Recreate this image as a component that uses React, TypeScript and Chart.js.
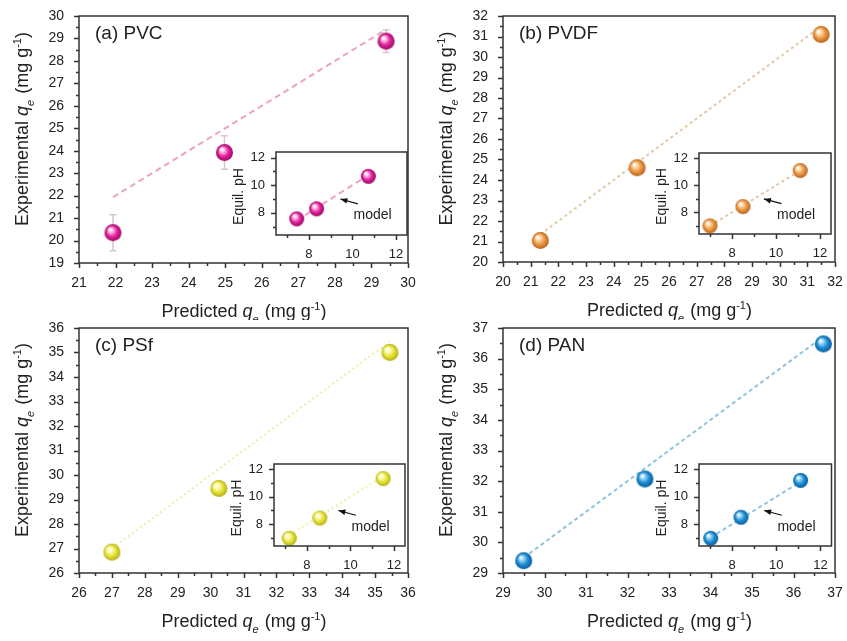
import React, { useEffect, useRef } from 'react';
import { Chart, registerables } from 'chart.js';

Chart.register(...registerables);

const FONT = "'Liberation Sans', Arial, Helvetica, sans-serif";
const TEXT = '#222222';
const AXIS = '#333333';

// ---------------- data ----------------
const PANEL_LABELS = ['(a) PVC', '(b) PVDF', '(c) PSf', '(d) PAN'];

const PVC_PREDICTED = [21.93, 24.98, 29.4];
const PVC_EXPERIMENTAL = [20.35, 23.92, 28.88];
const PVC_ERROR = [0.8, 0.75, 0.5];
const PVC_PH_MODEL = [7.45, 8.36, 10.73];
const PVC_PH_EQUIL = [7.57, 8.29, 10.64];

const PVDF_PREDICTED = [21.35, 24.85, 31.5];
const PVDF_EXPERIMENTAL = [21.05, 24.6, 31.1];
const PVDF_PH_MODEL = [7.0, 8.5, 11.1];
const PVDF_PH_EQUIL = [7.0, 8.43, 11.1];

const PSF_PREDICTED = [27.0, 30.25, 35.45];
const PSF_EXPERIMENTAL = [26.85, 29.45, 35.0];
const PSF_PH_MODEL = [7.2, 8.6, 11.5];
const PSF_PH_EQUIL = [6.96, 8.44, 11.33];

const PAN_PREDICTED = [29.5, 32.42, 36.72];
const PAN_EXPERIMENTAL = [29.4, 32.07, 36.48];
const PAN_PH_MODEL = [7.03, 8.4, 11.1];
const PAN_PH_EQUIL = [6.96, 8.5, 11.2];

const MAIN_X_RANGES = [[21, 30], [20, 32], [26, 36], [29, 37]];
const MAIN_Y_RANGES = [[19, 30], [20, 32], [26, 36], [29, 37]];
const MAIN_TICK_STEP = 1;
const INSET_X_RANGE = [6.5, 12.5];
const INSET_Y_RANGE = [6.4, 12.4];
const INSET_TICK_STEP = 2;
const MODEL_ARROW_HEAD = [9.45, 9.0];
const MODEL_ARROW_TAIL = [10.25, 8.65];
const MODEL_LABEL_AT = [10.05, 7.8];

const PREDICTED = [PVC_PREDICTED, PVDF_PREDICTED, PSF_PREDICTED, PAN_PREDICTED];
const EXPERIMENTAL = [PVC_EXPERIMENTAL, PVDF_EXPERIMENTAL, PSF_EXPERIMENTAL, PAN_EXPERIMENTAL];
const ERRORS = [PVC_ERROR, null, null, null];
const PH_MODEL = [PVC_PH_MODEL, PVDF_PH_MODEL, PSF_PH_MODEL, PAN_PH_MODEL];
const PH_EQUIL = [PVC_PH_EQUIL, PVDF_PH_EQUIL, PSF_PH_EQUIL, PAN_PH_EQUIL];

// ---------------- styles / layout ----------------
const STYLES = [
  { base: '#e3239e', light: '#ffc4e8', dark: '#9a0a64', line: '#eaa3c0', dash: [6, 4] },
  { base: '#ec9a46', light: '#fde0b8', dark: '#b8631c', line: '#e4c8a8', dash: [3, 3] },
  { base: '#e6e43a', light: '#ffffc8', dark: '#b4ae14', line: '#efefa8', dash: [2, 3] },
  { base: '#1d8fd6', light: '#a8dcf8', dark: '#0a5c9a', line: '#8fc4dc', dash: [4, 3] },
];

const MAIN_LAYOUT = [
  { left: 0, top: 0, w: 423, h: 320, l: 79, r: 408, t: 16, b: 263 },
  { left: 423, top: 0, w: 424, h: 320, l: 80, r: 412, t: 16, b: 262 },
  { left: 0, top: 312, w: 423, h: 329, l: 79, r: 408, t: 16, b: 261 },
  { left: 423, top: 312, w: 424, h: 329, l: 80, r: 412, t: 16, b: 261 },
];
const INSET_LAYOUT = [
  { left: 220, top: 140, w: 200, h: 130, l: 56, r: 187, t: 12, b: 95 },
  { left: 640, top: 140, w: 200, h: 130, l: 59, r: 191, t: 13, b: 94 },
  { left: 220, top: 452, w: 200, h: 130, l: 54, r: 185, t: 12, b: 94 },
  { left: 640, top: 452, w: 200, h: 130, l: 59, r: 192, t: 12, b: 94 },
];

type Seg = { t: string; it?: boolean; sub?: boolean; sup?: boolean };
const X_TITLE: Seg[] = [{ t: 'Predicted ' }, { t: 'q', it: true }, { t: 'e', it: true, sub: true }, { t: ' (mg g' }, { t: '-1', sup: true }, { t: ')' }];
const Y_TITLE: Seg[] = [{ t: 'Experimental ' }, { t: 'q', it: true }, { t: 'e', it: true, sub: true }, { t: ' (mg g' }, { t: '-1', sup: true }, { t: ')' }];
const INSET_Y_TITLE = 'Equil. pH';
const MODEL_TEXT = 'model';

function drawRich(ctx: CanvasRenderingContext2D, segs: Seg[], cx: number, cy: number, size: number) {
  const fontFor = (s: Seg) => `${s.it ? 'italic ' : ''}${s.sub || s.sup ? Math.round(size * 0.62) : size}px ${FONT}`;
  let total = 0;
  const widths = segs.map((s) => {
    ctx.font = fontFor(s);
    const w = ctx.measureText(s.t).width;
    total += w;
    return w;
  });
  let x = cx - total / 2;
  const base = cy + size * 0.36;
  ctx.textAlign = 'left';
  ctx.textBaseline = 'alphabetic';
  segs.forEach((s, k) => {
    ctx.font = fontFor(s);
    const dy = s.sub ? size * 0.28 : s.sup ? -size * 0.42 : 0;
    ctx.fillText(s.t, x, base + dy);
    x += widths[k] + (s.sub ? 1 : 0);
  });
}

function sphere(st: any, r: number) {
  const c = document.createElement('canvas');
  const s = Math.ceil(r * 2) + 2;
  c.width = s;
  c.height = s;
  const g = c.getContext('2d')!;
  const cx = s / 2, cy = s / 2;
  const grad = g.createRadialGradient(cx - r * 0.35, cy - r * 0.4, r * 0.05, cx, cy, r);
  grad.addColorStop(0, '#ffffff');
  grad.addColorStop(0.22, st.light);
  grad.addColorStop(0.6, st.base);
  grad.addColorStop(1, st.dark);
  g.fillStyle = grad;
  g.beginPath();
  g.arc(cx, cy, r, 0, Math.PI * 2);
  g.fill();
  return c;
}

function framePlugin(major: number, minor: number, majLen: number, minLen: number, lw: number) {
  return {
    id: 'frameTicks',
    afterDatasetsDraw(chart: any) {
      const { ctx, chartArea: a, scales } = chart;
      const xs = scales.x, ys = scales.y;
      ctx.save();
      ctx.strokeStyle = AXIS;
      ctx.lineWidth = lw;
      ctx.strokeRect(a.left, a.top, a.right - a.left, a.bottom - a.top);
      ctx.beginPath();
      const n0x = Math.ceil(xs.min / minor - 1e-6), n1x = Math.floor(xs.max / minor + 1e-6);
      for (let n = n0x; n <= n1x; n++) {
        const v = n * minor;
        const isMaj = Math.abs(v / major - Math.round(v / major)) < 1e-6;
        const px = Math.round(xs.getPixelForValue(v)) + 0.5;
        ctx.moveTo(px, a.bottom);
        ctx.lineTo(px, a.bottom + (isMaj ? majLen : minLen));
      }
      const n0y = Math.ceil(ys.min / minor - 1e-6), n1y = Math.floor(ys.max / minor + 1e-6);
      for (let n = n0y; n <= n1y; n++) {
        const v = n * minor;
        const isMaj = Math.abs(v / major - Math.round(v / major)) < 1e-6;
        const py = Math.round(ys.getPixelForValue(v)) + 0.5;
        ctx.moveTo(a.left, py);
        ctx.lineTo(a.left - (isMaj ? majLen : minLen), py);
      }
      ctx.stroke();
      ctx.restore();
    },
  };
}

function tickValues(range: number[], step: number) {
  const out: { value: number }[] = [];
  const n0 = Math.ceil(range[0] / step - 1e-6), n1 = Math.floor(range[1] / step + 1e-6);
  for (let n = n0; n <= n1; n++) out.push({ value: n * step });
  return out;
}

function zeroPad(s: any) {
  s.paddingLeft = 0;
  s.paddingRight = 0;
  s.paddingTop = 0;
  s.paddingBottom = 0;
}

function axes(L: any, xr: number[], yr: number[], step: number, size: number, padX: number, padY: number) {
  const common = {
    type: 'linear',
    grid: { display: false, drawTicks: false },
    border: { display: false },
  };
  return {
    x: {
      ...common,
      min: xr[0],
      max: xr[1],
      afterBuildTicks: (s: any) => { s.ticks = tickValues(xr, step); },
      afterFit: (s: any) => { s.height = L.h - L.b; zeroPad(s); },
      ticks: { padding: padX, color: TEXT, font: { size, family: FONT }, maxRotation: 0, autoSkip: false, callback: (v: any) => String(v) },
    },
    y: {
      ...common,
      min: yr[0],
      max: yr[1],
      afterBuildTicks: (s: any) => { s.ticks = tickValues(yr, step); },
      afterFit: (s: any) => { s.width = L.l; zeroPad(s); },
      ticks: { padding: padY, color: TEXT, font: { size, family: FONT }, autoSkip: false, callback: (v: any) => String(v) },
    },
  };
}

function Panel({ i }: { i: number }) {
  const mainRef = useRef<HTMLCanvasElement>(null);
  const insetRef = useRef<HTMLCanvasElement>(null);
  const M = MAIN_LAYOUT[i];
  const I = INSET_LAYOUT[i];

  useEffect(() => {
    const st = STYLES[i];
    const pred = PREDICTED[i], exp = EXPERIMENTAL[i], err = ERRORS[i];
    const lo = Math.min(...pred), hi = Math.max(...pred);

    const errPlugin = {
      id: 'errBars',
      beforeDatasetsDraw(chart: any) {
        if (!err) return;
        const { ctx, scales } = chart;
        ctx.save();
        ctx.strokeStyle = '#d9c3cf';
        ctx.lineWidth = 1.5;
        pred.forEach((x, k) => {
          const px = scales.x.getPixelForValue(x);
          const y1 = scales.y.getPixelForValue(exp[k] - err[k]);
          const y2 = scales.y.getPixelForValue(exp[k] + err[k]);
          ctx.beginPath();
          ctx.moveTo(px, y1); ctx.lineTo(px, y2);
          ctx.moveTo(px - 3.5, y1); ctx.lineTo(px + 3.5, y1);
          ctx.moveTo(px - 3.5, y2); ctx.lineTo(px + 3.5, y2);
          ctx.stroke();
        });
        ctx.restore();
      },
    };

    const titlePlugin = {
      id: 'titles',
      afterDraw(chart: any) {
        const { ctx, chartArea: a } = chart;
        ctx.save();
        ctx.fillStyle = TEXT;
        drawRich(ctx, X_TITLE, (a.left + a.right) / 2, a.bottom + 48, 18);
        ctx.save();
        ctx.translate(a.left - 57, (a.top + a.bottom) / 2 - 10);
        ctx.rotate(-Math.PI / 2);
        drawRich(ctx, Y_TITLE, 0, 0, 18);
        ctx.restore();
        ctx.font = `19px ${FONT}`;
        ctx.textAlign = 'left';
        ctx.textBaseline = 'middle';
        ctx.fillText(PANEL_LABELS[i], a.left + 16, a.top + 18);
        ctx.restore();
      },
    };

    const main = new Chart(mainRef.current!, {
      type: 'scatter',
      data: {
        datasets: [
          {
            data: pred.map((x, k) => ({ x, y: exp[k] })),
            pointStyle: sphere(st, 8.5) as any,
            pointRadius: 8.5,
            clip: false as any,
          },
          {
            data: [{ x: lo, y: lo }, { x: hi, y: hi }],
            showLine: true,
            borderColor: st.line,
            borderDash: st.dash,
            borderWidth: 2,
            pointRadius: 0,
            clip: false as any,
          },
        ],
      },
      options: {
        responsive: false,
        animation: false,
        devicePixelRatio: 1,
        layout: { padding: { left: 0, top: M.t, right: M.w - M.r, bottom: 0 } },
        plugins: { legend: { display: false }, tooltip: { enabled: false } },
        scales: axes(M, MAIN_X_RANGES[i], MAIN_Y_RANGES[i], MAIN_TICK_STEP, 14, 12, 15) as any,
      },
      plugins: [errPlugin, framePlugin(1, 0.5, 5, 3, 1.5), titlePlugin],
    });

    const mModel = PH_MODEL[i], mEq = PH_EQUIL[i];
    const ilo = mModel[0], ihi = mModel[mModel.length - 1];
    const insetText = {
      id: 'insetText',
      afterDraw(chart: any) {
        const { ctx, chartArea: a, scales } = chart;
        ctx.save();
        ctx.fillStyle = TEXT;
        ctx.translate(a.left - 37, (a.top + a.bottom) / 2 + 3);
        ctx.rotate(-Math.PI / 2);
        ctx.font = `14px ${FONT}`;
        ctx.textAlign = 'center';
        ctx.textBaseline = 'middle';
        ctx.fillText(INSET_Y_TITLE, 0, 0);
        ctx.restore();

        const hx = scales.x.getPixelForValue(MODEL_ARROW_HEAD[0]);
        const hy = scales.y.getPixelForValue(MODEL_ARROW_HEAD[1]);
        const tx = scales.x.getPixelForValue(MODEL_ARROW_TAIL[0]);
        const ty = scales.y.getPixelForValue(MODEL_ARROW_TAIL[1]);
        ctx.save();
        ctx.strokeStyle = '#111';
        ctx.fillStyle = '#111';
        ctx.lineWidth = 1.2;
        ctx.beginPath();
        ctx.moveTo(tx, ty);
        ctx.lineTo(hx, hy);
        ctx.stroke();
        const ang = Math.atan2(hy - ty, hx - tx);
        ctx.beginPath();
        ctx.moveTo(hx, hy);
        ctx.lineTo(hx - 7 * Math.cos(ang) + 2.8 * Math.sin(ang), hy - 7 * Math.sin(ang) - 2.8 * Math.cos(ang));
        ctx.lineTo(hx - 7 * Math.cos(ang) - 2.8 * Math.sin(ang), hy - 7 * Math.sin(ang) + 2.8 * Math.cos(ang));
        ctx.closePath();
        ctx.fill();
        ctx.fillStyle = TEXT;
        ctx.font = `14px ${FONT}`;
        ctx.textAlign = 'left';
        ctx.textBaseline = 'middle';
        ctx.fillText(MODEL_TEXT, scales.x.getPixelForValue(MODEL_LABEL_AT[0]), scales.y.getPixelForValue(MODEL_LABEL_AT[1]));
        ctx.restore();
      },
    };

    const inset = new Chart(insetRef.current!, {
      type: 'scatter',
      data: {
        datasets: [
          {
            data: mModel.map((x, k) => ({ x, y: mEq[k] })),
            pointStyle: sphere(st, 7.5) as any,
            pointRadius: 7.5,
            clip: false as any,
          },
          {
            data: [{ x: ilo, y: ilo }, { x: ihi, y: ihi }],
            showLine: true,
            borderColor: st.line,
            borderDash: st.dash,
            borderWidth: 2,
            pointRadius: 0,
            clip: false as any,
          },
        ],
      },
      options: {
        responsive: false,
        animation: false,
        devicePixelRatio: 1,
        layout: { padding: { left: 0, top: I.t, right: I.w - I.r, bottom: 0 } },
        plugins: { legend: { display: false }, tooltip: { enabled: false } },
        scales: axes(I, INSET_X_RANGE, INSET_Y_RANGE, INSET_TICK_STEP, 13, 12, 11) as any,
      },
      plugins: [framePlugin(2, 1, 5, 3, 1.5), insetText],
    });

    return () => {
      main.destroy();
      inset.destroy();
    };
  }, [i]);

  return (
    <>
      <canvas
        ref={mainRef}
        width={M.w}
        height={M.h}
        style={{ position: 'absolute', left: M.left, top: M.top, width: M.w, height: M.h }}
      />
      <canvas
        ref={insetRef}
        width={I.w}
        height={I.h}
        style={{ position: 'absolute', left: I.left, top: I.top, width: I.w, height: I.h }}
      />
    </>
  );
}

export default function App() {
  return (
    <div style={{ position: 'absolute', left: 0, top: 0, width: 847, height: 641, background: '#ffffff', overflow: 'hidden' }}>
      {PANEL_LABELS.map((_, i) => (
        <Panel key={i} i={i} />
      ))}
    </div>
  );
}
